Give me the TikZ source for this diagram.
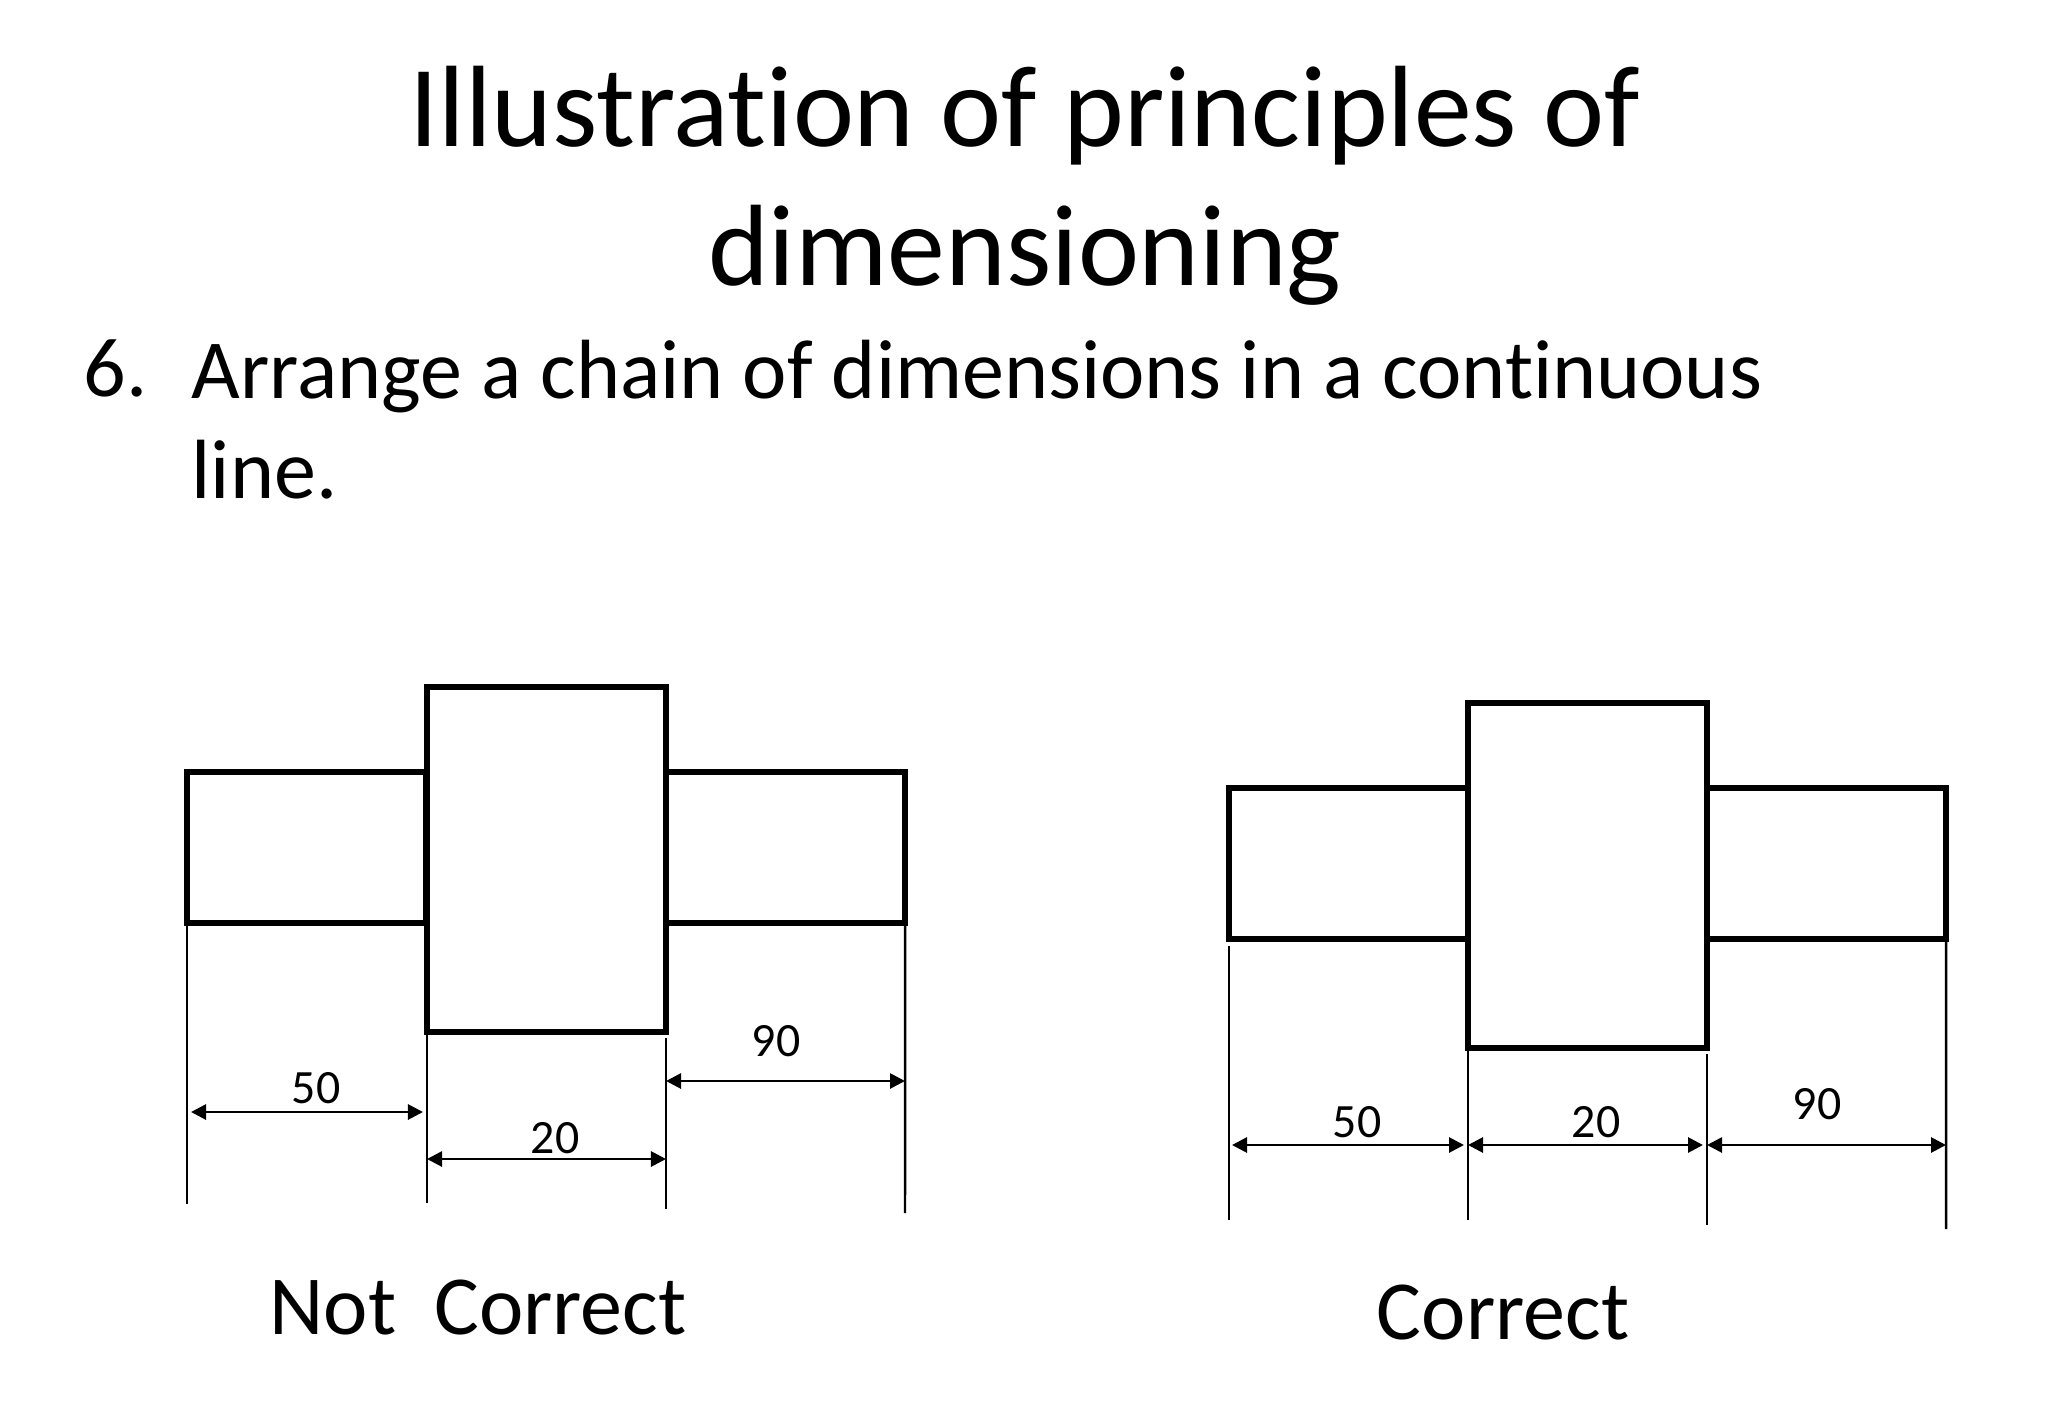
\documentclass[tikz,border=0pt]{standalone}
\usepackage{fontspec}
\usepackage{tikz}
\setmainfont{Carlito}[Ligatures=NoCommon]
\usetikzlibrary{positioning, arrows.meta}

\begin{document}
\begin{tikzpicture}[
    x=0.01cm, y=-0.01cm,
    stubnode/.style={rectangle, draw=black, line width=1.6pt, anchor=north west, minimum width=2.39cm, minimum height=1.51cm, inner sep=0pt, outer sep=0pt},
    hubnode/.style={rectangle, draw=black, fill=white, line width=1.6pt, anchor=north west, minimum width=2.39cm, minimum height=3.45cm, inner sep=0pt, outer sep=0pt},
    extline/.style={draw=black, line width=0.7pt},
    dimline/.style={draw=black, line width=0.8pt, {Triangle[length=0.15cm, width=0.15cm]}-{Triangle[length=0.15cm, width=0.15cm]}},
    dimlabel/.style={font=\fontsize{13.6}{16}\selectfont, inner sep=0pt},
    caption/.style={font=\fontsize{23.9}{28}\selectfont, inner sep=0pt}
]
\useasboundingbox (0,0) rectangle (2048,1418);

% heading
\node[font=\fontsize{32.9}{39.4}\selectfont, align=center, inner sep=0pt](title) at (1025,186){Illustration of principles of\\dimensioning};
\node[font=\fontsize{23.9}{28.6}\selectfont, align=left, inner sep=0pt, anchor=north west](rule) at (191,339){Arrange a chain of dimensions in a continuous\\line.};
\node[font=\fontsize{23.9}{28.6}\selectfont, inner sep=0pt, anchor=north east](num) at (148,339){6.};

% not correct
\node[stubnode](lefta) at (187,772){};
\node[stubnode](righta) at (666,772){};
\node[hubnode](huba) at (427,687){};
\coordinate (ea1) at (187,926);
\coordinate (ea2) at (187,1204);
\coordinate (eb2) at (427,1203);
\coordinate (ec1) at (666,1038);
\coordinate (ec2) at (666,1209);
\coordinate (ed2) at (905,1213);
\draw[extline] (ea1) -- (ea2);
\draw[extline] (huba.south west) -- (eb2);
\draw[extline] (ec1) -- (ec2);
\draw[extline] (righta.south east) -- (ed2);
\coordinate (fa1) at (191,1112);
\coordinate (fa2) at (423,1112);
\coordinate (fb1) at (427,1159);
\coordinate (fb2) at (666,1159);
\coordinate (fc1) at (666,1081);
\coordinate (fc2) at (905,1081);
\draw[dimline] (fa1) -- (fa2);
\draw[dimline] (fb1) -- (fb2);
\draw[dimline] (fc1) -- (fc2);
\node[dimlabel](fifa) at (316,1088){50};
\node[dimlabel](twea) at (555,1138){20};
\node[dimlabel](ninea) at (776,1041){90};
\node[caption](wrong) at (478,1308){Not\ \ Correct};

% correct
\node[stubnode](leftb) at (1229,788){};
\node[stubnode](rightb) at (1707,788){};
\node[hubnode](hubb) at (1468,703){};
\coordinate (ga1) at (1229,946);
\coordinate (ga2) at (1229,1220);
\coordinate (gb2) at (1468,1220);
\coordinate (gc1) at (1707,1054);
\coordinate (gc2) at (1707,1225);
\coordinate (gd2) at (1946,1229);
\draw[extline] (ga1) -- (ga2);
\draw[extline] (hubb.south west) -- (gb2);
\draw[extline] (gc1) -- (gc2);
\draw[extline] (rightb.south east) -- (gd2);
\coordinate (ha1) at (1232,1145);
\coordinate (ha2) at (1464,1145);
\coordinate (hb1) at (1468,1145);
\coordinate (hb2) at (1703,1145);
\coordinate (hc1) at (1707,1145);
\coordinate (hc2) at (1946,1145);
\draw[dimline] (ha1) -- (ha2);
\draw[dimline] (hb1) -- (hb2);
\draw[dimline] (hc1) -- (hc2);
\node[dimlabel](fifb) at (1357,1122){50};
\node[dimlabel](tweb) at (1596,1122){20};
\node[dimlabel](nineb) at (1817,1104){90};
\node[caption](right) at (1503,1313){Correct};
\end{tikzpicture}
\end{document}
